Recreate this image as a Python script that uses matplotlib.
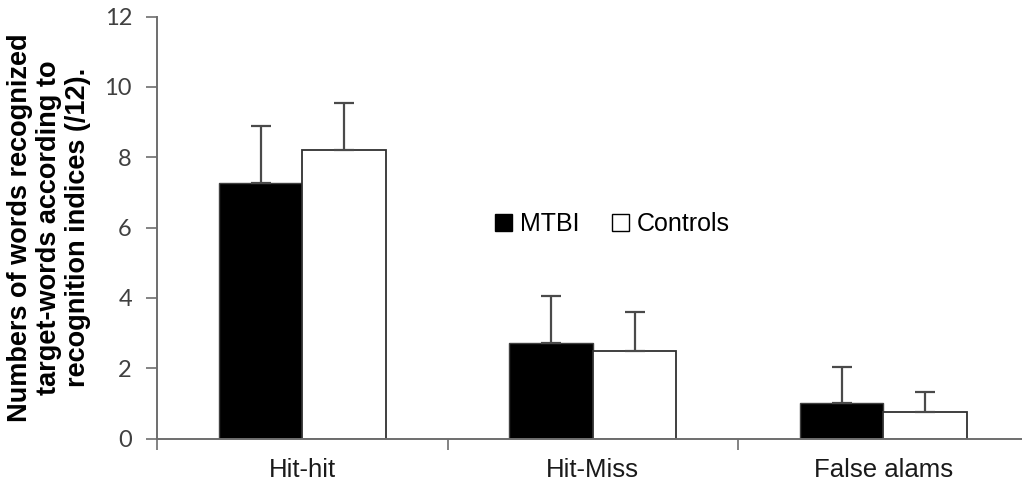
import matplotlib
matplotlib.use("Agg")
import matplotlib.pyplot as plt
from matplotlib.patches import Patch
import numpy as np

categories = ["Hit-hit", "Hit-Miss", "False alams"]
mtbi_mean = [7.26, 2.73, 1.00]
mtbi_sd = [1.64, 1.32, 1.04]
controls_mean = [8.20, 2.48, 0.76]
controls_sd = [1.35, 1.12, 0.57]
y_ticks = [0, 2, 4, 6, 8, 10, 12]

plt.rcParams['font.family'] = ['Liberation Sans', 'DejaVu Sans']

fig = plt.figure(figsize=(10.22, 4.88), dpi=100)
ax = fig.add_axes([0.1536, 0.1014, 0.8464, 0.8644])

x = np.arange(len(categories)) + 0.5
w = 0.287
axis_grey = "#6e6e6e"
err_grey = "#4a4a4a"

ax.bar(x - w / 2, mtbi_mean, w, color="black", edgecolor="#404040", linewidth=1.0,
       yerr=[np.zeros(3), mtbi_sd], error_kw=dict(ecolor=err_grey, elinewidth=1.6, capsize=7, capthick=1.6),
       zorder=2)
ax.bar(x + w / 2, controls_mean, w, color="white", edgecolor="#303030", linewidth=1.3,
       yerr=[np.zeros(3), controls_sd], error_kw=dict(ecolor=err_grey, elinewidth=1.6, capsize=7, capthick=1.6),
       zorder=2)

ax.set_xlim(0, 2.977)
ax.set_ylim(0, 12)
ax.set_yticks(y_ticks)
ax.set_yticklabels([str(t) for t in y_ticks], family=['Lato', 'DejaVu Sans'], fontsize=17, color="#404040")
ax.tick_params(axis='y', direction='out', length=8, width=1.2, color=axis_grey, pad=10)

ax.set_xticks([0, 1, 2])
ax.set_xticklabels([])
ax.set_xticks(x, minor=True)
ax.set_xticklabels(categories, minor=True, fontsize=18.5, color="#1a1a1a")
ax.tick_params(axis='x', which='major', direction='out', length=8, width=1.2, color=axis_grey)
ax.tick_params(axis='x', which='minor', length=0, pad=14)

for side in ["top", "right"]:
    ax.spines[side].set_visible(False)
for side in ["left", "bottom"]:
    ax.spines[side].set_color(axis_grey)
    ax.spines[side].set_linewidth(1.4)

ax.set_ylabel("Numbers of words recognized\ntarget-words according to\nrecognition indices (/12).",
              fontsize=19.5, fontweight="bold", linespacing=1.15, labelpad=10)

handles = [Patch(facecolor="black", edgecolor="black", label="MTBI"),
           Patch(facecolor="white", edgecolor="black", label="Controls")]
leg = ax.legend(handles=handles, ncol=2, frameon=False, fontsize=18, loc="center",
                handlelength=0.7, handleheight=0.7, handletextpad=0.3, columnspacing=1.3)
leg.set_bbox_to_anchor((612 / 1022, (488 - 224) / 488), transform=fig.transFigure)

fig.savefig("out.png", dpi=100)
